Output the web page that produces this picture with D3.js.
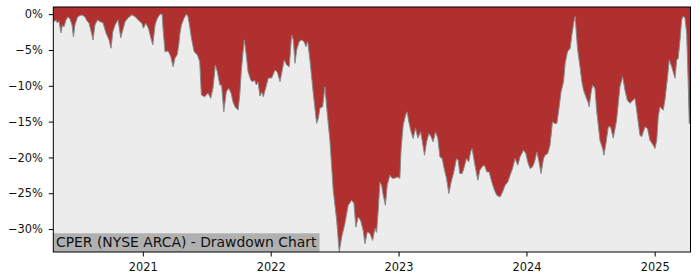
<!DOCTYPE html>
<html>
<head>
<meta charset="utf-8">
<script src="https://cdn.jsdelivr.net/npm/d3@7/dist/d3.min.js"></script>
<style>
  html, body { margin: 0; padding: 0; background: #ffffff; }
  svg { display: block; }
  text { font-family: "DejaVu Sans", sans-serif; }
</style>
</head>
<body>
<svg id="chart" width="700" height="280"></svg>
<script>
// Dates as decimal years, drawdown values in percent
const years = [
  2020.302,2020.311,2020.323,2020.334,2020.346,2020.362,2020.373,2020.385,2020.401,2020.416,
  2020.432,2020.448,2020.459,2020.471,2020.491,2020.510,2020.526,2020.549,2020.565,2020.580,
  2020.596,2020.612,2020.627,2020.647,2020.666,2020.690,2020.713,2020.737,2020.752,2020.766,
  2020.784,2020.807,2020.828,2020.844,2020.862,2020.885,2020.914,2020.940,2020.963,2020.992,
  2021.005,2021.023,2021.044,2021.057,2021.078,2021.096,2021.114,2021.135,2021.151,2021.159,
  2021.174,2021.198,2021.219,2021.237,2021.252,2021.268,2021.281,2021.291,2021.302,2021.323,
  2021.341,2021.354,2021.367,2021.380,2021.401,2021.427,2021.445,2021.458,2021.484,2021.510,
  2021.531,2021.549,2021.567,2021.583,2021.602,2021.616,2021.633,2021.653,2021.672,2021.690,
  2021.705,2021.721,2021.745,2021.758,2021.770,2021.784,2021.794,2021.809,2021.823,2021.844,
  2021.858,2021.873,2021.888,2021.901,2021.916,2021.930,2021.942,2021.963,2021.981,2022.008,
  2022.034,2022.052,2022.073,2022.086,2022.106,2022.125,2022.145,2022.164,2022.177,2022.190,
  2022.203,2022.223,2022.242,2022.260,2022.276,2022.289,2022.307,2022.333,2022.359,2022.373,
  2022.385,2022.406,2022.424,2022.442,2022.463,2022.489,2022.516,2022.536,2022.555,2022.580,
  2022.606,2022.633,2022.651,2022.666,2022.684,2022.703,2022.723,2022.737,2022.755,2022.776,
  2022.797,2022.815,2022.828,2022.841,2022.854,2022.867,2022.880,2022.897,2022.911,2022.932,
  2022.950,2022.969,2022.989,2023.010,2023.020,2023.036,2023.055,2023.067,2023.080,2023.098,
  2023.114,2023.133,2023.151,2023.172,2023.184,2023.203,2023.219,2023.237,2023.255,2023.270,
  2023.289,2023.307,2023.323,2023.341,2023.359,2023.375,2023.393,2023.411,2023.432,2023.453,
  2023.466,2023.479,2023.497,2023.510,2023.531,2023.549,2023.563,2023.575,2023.588,2023.602,
  2023.620,2023.635,2023.653,2023.666,2023.677,2023.690,2023.708,2023.729,2023.750,2023.768,
  2023.794,2023.813,2023.833,2023.854,2023.872,2023.891,2023.911,2023.932,2023.950,2023.977,
  2023.995,2024.010,2024.028,2024.047,2024.063,2024.081,2024.098,2024.114,2024.133,2024.145,
  2024.166,2024.184,2024.203,2024.219,2024.237,2024.250,2024.270,2024.289,2024.302,2024.320,
  2024.341,2024.354,2024.370,2024.380,2024.388,2024.398,2024.419,2024.432,2024.445,2024.463,
  2024.479,2024.489,2024.505,2024.516,2024.534,2024.547,2024.573,2024.594,2024.604,2024.620,
  2024.638,2024.656,2024.677,2024.703,2024.729,2024.750,2024.768,2024.786,2024.807,2024.833,
  2024.846,2024.859,2024.885,2024.898,2024.924,2024.944,2024.963,2024.989,2025.002,2025.016,
  2025.028,2025.041,2025.067,2025.080,2025.098,2025.114,2025.133,2025.159,2025.172,2025.184,
  2025.198,2025.211,2025.223,2025.237,2025.250,2025.263,2025.270,2025.280
];
const drawdown = [
  -0.66,-1.08,-0.80,-1.22,-0.94,-2.62,-1.50,-1.78,-0.80,-0.38,
  -0.66,-1.50,-3.18,-1.50,-0.38,-0.20,-0.10,-0.38,-0.94,-1.22,
  -2.34,-3.60,-1.50,-0.80,-1.04,-1.22,-2.62,-3.60,-4.76,-2.48,
  -1.50,-0.80,-3.32,-2.20,-1.04,-0.52,-0.10,-0.34,-0.80,-1.26,
  -1.96,-1.26,-1.96,-2.90,-4.30,-1.50,-0.56,0.00,0.00,-2.20,
  -5.27,-5.13,-5.93,-7.33,-6.11,-5.69,-4.30,-2.62,-1.50,-0.52,
  0.00,-0.38,-1.73,-3.32,-5.23,-5.69,-6.63,-11.29,-11.53,-11.01,
  -11.75,-10.31,-7.09,-8.03,-9.89,-9.89,-13.63,-10.83,-10.35,-11.01,
  -12.23,-12.93,-13.39,-11.29,-8.03,-5.23,-3.60,-5.69,-8.03,-9.19,
  -9.47,-9.19,-9.89,-9.47,-11.43,-10.87,-11.53,-10.17,-8.91,-8.91,
  -7.79,-8.07,-9.43,-8.21,-6.39,-7.09,-7.33,-2.90,-3.60,-6.86,
  -5.00,-3.83,-3.60,-3.83,-4.53,-3.83,-6.39,-11.05,-15.25,-14.51,
  -13.11,-12.93,-10.13,-13.81,-17.59,-24.58,-28.78,-33.20,-31.12,-29.24,
  -26.68,-25.98,-26.40,-29.72,-28.32,-28.78,-30.18,-32.04,-30.42,-30.60,
  -31.58,-29.90,-30.46,-27.38,-23.46,-23.88,-25.28,-26.68,-23.88,-22.49,
  -22.90,-22.90,-22.72,-22.90,-18.75,-15.49,-14.09,-13.63,-15.03,-16.43,
  -17.35,-15.95,-17.31,-16.43,-17.59,-19.69,-17.83,-16.65,-17.13,-17.83,
  -16.43,-17.35,-19.92,-20.15,-21.79,-22.90,-25.05,-23.42,-22.02,-20.15,
  -20.39,-22.25,-22.25,-21.55,-20.15,-20.62,-19.22,-18.75,-20.15,-21.55,
  -23.18,-21.79,-21.32,-21.09,-21.32,-22.02,-22.02,-23.42,-24.58,-25.28,
  -25.52,-24.82,-23.88,-23.42,-22.49,-21.55,-20.15,-21.09,-19.92,-18.99,
  -19.45,-20.62,-21.55,-21.32,-20.62,-19.22,-20.62,-22.25,-20.15,-19.69,
  -19.45,-18.29,-15.03,-15.25,-15.25,-13.63,-10.83,-9.43,-6.86,-5.23,
  -4.76,-2.90,-1.04,-0.34,-2.43,-4.76,-7.56,-9.43,-10.59,-11.53,
  -12.23,-12.93,-10.83,-9.89,-10.35,-13.39,-17.59,-18.75,-19.69,-18.01,
  -15.73,-15.73,-17.31,-14.79,-10.13,-8.73,-10.59,-11.99,-12.45,-11.99,
  -11.75,-13.39,-16.89,-17.13,-15.73,-15.95,-17.59,-18.29,-18.75,-17.59,
  -14.33,-12.93,-13.39,-11.99,-9.19,-6.39,-7.33,-8.95,-6.39,-6.16,
  -3.60,-0.80,-0.24,-0.56,-2.66,-10.13,-15.25,-15.30
];
const yTicks = [0, -5, -10, -15, -20, -25, -30];
const xTickYears = [2021, 2022, 2023, 2024, 2025];
const titleText = "CPER (NYSE ARCA) - Drawdown Chart";

function yearToDate(y) {
  const Y = Math.floor(y);
  const a = Date.UTC(Y, 0, 1), b = Date.UTC(Y + 1, 0, 1);
  return new Date(a + (y - Y) * (b - a));
}
const data = years.map((y, i) => ({ date: yearToDate(y), v: drawdown[i] }));

const W = 700, H = 280;
const m = { left: 53.3, top: 7, right: 9.5, bottom: 28 };
const svg = d3.select("#chart");

const x = d3.scaleUtc()
  .domain(d3.extent(data, d => d.date))
  .range([m.left, W - m.right]);
const y = d3.scaleLinear()
  .domain([d3.min(drawdown), 1])
  .range([H - m.bottom, m.top]);

// plot background
svg.append("rect")
  .attr("x", m.left).attr("y", m.top)
  .attr("width", W - m.right - m.left).attr("height", H - m.bottom - m.top)
  .attr("fill", "#ececec");

// red area from top of plot down to drawdown
const area = d3.area()
  .x(d => x(d.date))
  .y0(m.top)
  .y1(d => y(d.v));
svg.append("path").datum(data)
  .attr("d", area)
  .attr("fill", "#b03030");

const line = d3.line().x(d => x(d.date)).y(d => y(d.v));
svg.append("path").datum(data)
  .attr("d", line)
  .attr("fill", "none")
  .attr("stroke", "#8a8a8a")
  .attr("stroke-width", 1);

// title box
const tb = svg.append("g");
const t = tb.append("text")
  .attr("x", m.left + 2.7)
  .attr("y", H - m.bottom - 5)
  .attr("font-size", 13.9)
  .attr("fill", "#111")
  .text(titleText);
const bb = t.node().getBBox();
tb.insert("rect", "text")
  .attr("x", m.left).attr("y", H - m.bottom - 18.7)
  .attr("width", bb.x + bb.width + 2.5 - m.left).attr("height", 18.7)
  .attr("fill", "#b0b0b0");

// axes
const yAxis = d3.axisLeft(y)
  .tickValues(yTicks)
  .tickSize(4.5).tickPadding(6)
  .tickFormat(d => d3.format("d")(d) + "%");
const gy = svg.append("g").attr("transform", `translate(${m.left},0)`).call(yAxis);

const xAxis = d3.axisBottom(x)
  .tickValues(xTickYears.map(yr => new Date(Date.UTC(yr, 0, 1))))
  .tickSize(4.5).tickPadding(6.5)
  .tickFormat(d3.utcFormat("%Y"));
const gx = svg.append("g").attr("transform", `translate(0,${H - m.bottom})`).call(xAxis);

[gx, gy].forEach(g => {
  g.select(".domain").remove();
  g.selectAll("text").attr("font-size", 11.4).attr("fill", "#111")
    .attr("font-family", "DejaVu Sans, sans-serif");
  g.selectAll("line").attr("stroke", "#000");
});

// frame
svg.append("rect")
  .attr("x", m.left).attr("y", m.top)
  .attr("width", W - m.right - m.left).attr("height", H - m.bottom - m.top)
  .attr("fill", "none").attr("stroke", "#000").attr("stroke-width", 1);
</script>
</body>
</html>
